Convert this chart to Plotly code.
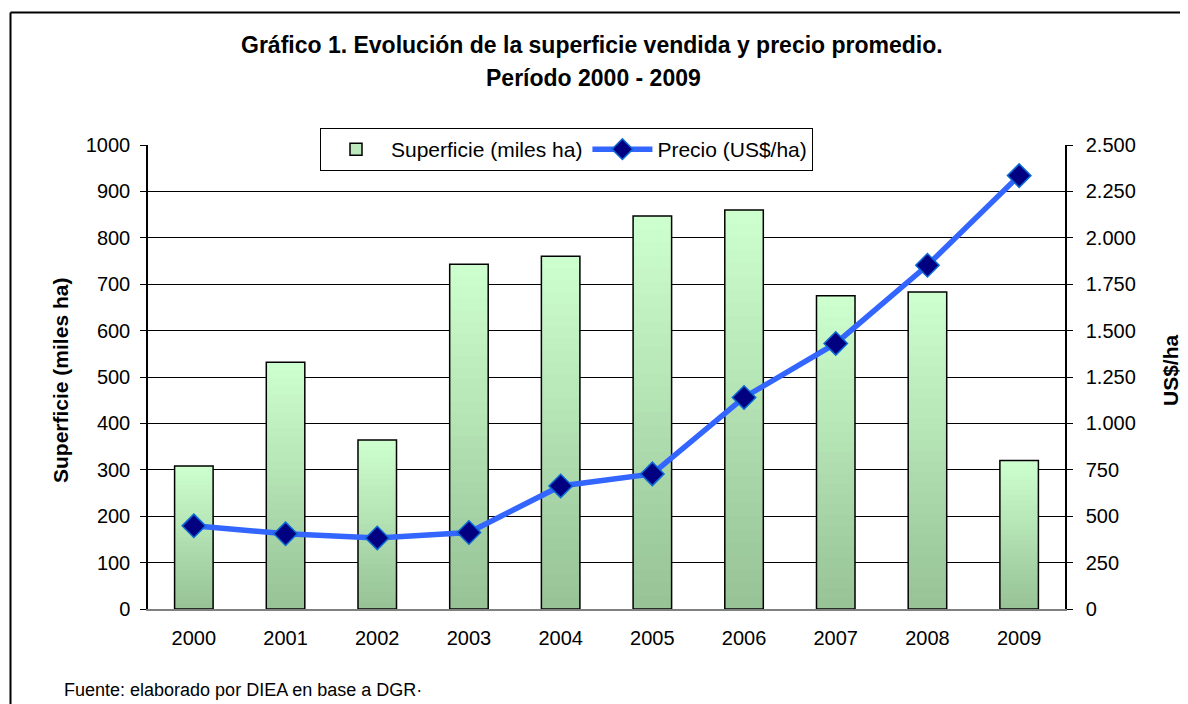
import plotly.graph_objects as go

years = ["2000", "2001", "2002", "2003", "2004", "2005", "2006", "2007", "2008", "2009"]
superficie = [308, 532, 364, 743, 760, 847, 860, 675, 683, 320]
precio = [448, 405, 383, 412, 663, 728, 1140, 1431, 1852, 2335]

FONT = "Liberation Sans, Arial, sans-serif"
OFF = 8  # page body margin
W, H = 1188 - OFF, 704 - OFF
L, R, T, B = 148 - OFF, 123, 145 - OFF, 95
PW, PH = W - L - R, H - T - B


def px(x):
    return (x - OFF - L) / PW


def py(y):
    return (H - B - (y - OFF)) / PH


fig = go.Figure()

# gradient bars: slices of each bar, dark at bottom to light at top
N = 30
bottom_rgb = (150, 194, 150)
top_rgb = (206, 255, 206)
BW = 0.42
for k in range(N):
    t = (k + 0.5) / N
    c = tuple(round(bottom_rgb[i] + (top_rgb[i] - bottom_rgb[i]) * t) for i in range(3))
    span = min(2, N - k)
    fig.add_trace(go.Bar(
        x=years, y=[v * span / N for v in superficie], base=[v * k / N for v in superficie],
        width=BW, marker=dict(color="rgb(%d,%d,%d)" % c, line=dict(width=0)),
        showlegend=False, hoverinfo="skip", yaxis="y"))

# outline of bars
fig.add_trace(go.Bar(
    x=years, y=superficie, width=BW,
    marker=dict(color="rgba(0,0,0,0)", line=dict(color="black", width=1.5)),
    showlegend=False, yaxis="y"))

# legend entry for bars
fig.add_trace(go.Bar(
    x=[None], y=[None], name="Superficie (miles ha)",
    marker=dict(color="rgb(190,232,190)", line=dict(color="black", width=1.5))))

fig.add_trace(go.Scatter(
    x=years, y=precio, name="Precio (US$/ha)", yaxis="y2", mode="lines+markers",
    line=dict(color="#3366ff", width=5.5),
    marker=dict(symbol="diamond", size=18, color="#000080",
                line=dict(color="#0a6ad6", width=1.5))))

fig.update_layout(
    width=W, height=H, margin=dict(l=L, r=R, t=T, b=B),
    paper_bgcolor="white", plot_bgcolor="white",
    barmode="overlay", separators=",.",
    font=dict(family=FONT, size=20, color="black"),
    showlegend=True,
    legend=dict(orientation="h", x=px(320), y=py(128), xanchor="left", yanchor="top",
                bgcolor="white", bordercolor="black", borderwidth=1, itemwidth=60,
                font=dict(size=21, family=FONT), traceorder="normal"),
    xaxis=dict(type="category", showgrid=False, showline=True, linecolor="#808080",
               linewidth=1.5, ticks="", tickfont=dict(size=20), range=[-0.5, 9.5],
               ticklabelstandoff=10),
    yaxis=dict(range=[0, 1000], dtick=100, showgrid=True, gridcolor="black", gridwidth=1,
               showline=True, linecolor="black", linewidth=1.5, ticks="outside",
               ticklen=6, tickcolor="black", tickfont=dict(size=20), zeroline=False,
               ticklabelstandoff=6),
    yaxis2=dict(range=[0, 2500], dtick=250, overlaying="y", side="right", showgrid=False,
                showline=True, linecolor="black", linewidth=1.5, ticks="outside",
                ticklen=6, tickcolor="black", tickformat=",d", tickfont=dict(size=20),
                zeroline=False, ticklabelstandoff=9),
)

annotations = [
    dict(text="<b>Gráfico 1. Evolución de la superficie vendida y precio promedio.</b>",
         x=px(592), y=py(45), font=dict(size=23)),
    dict(text="<b>Período 2000 - 2009</b>", x=px(593), y=py(78), font=dict(size=23)),
    dict(text="<b>Superficie (miles ha)</b>", x=px(60), y=py(381), textangle=-90,
         font=dict(size=21)),
    dict(text="<b>US$/ha</b>", x=px(1170), y=py(370), textangle=-90, font=dict(size=21)),
    dict(text="Fuente: elaborado por DIEA en base a DGR·", x=px(62), y=py(690),
         xanchor="left", font=dict(size=18)),
]
for a in annotations:
    a.setdefault("xanchor", "center")
    a.update(xref="paper", yref="paper", yanchor="middle", showarrow=False)
    fig.add_annotation(**a)

# chart border (top and left edges)
fig.add_shape(type="line", xref="paper", yref="paper", x0=px(10.5), x1=px(1200),
              y0=py(12.5), y1=py(12.5), line=dict(color="black", width=2))
fig.add_shape(type="line", xref="paper", yref="paper", x0=px(10.5), x1=px(10.5),
              y0=py(12.5), y1=py(720), line=dict(color="black", width=2))

fig.write_html("out.html")
